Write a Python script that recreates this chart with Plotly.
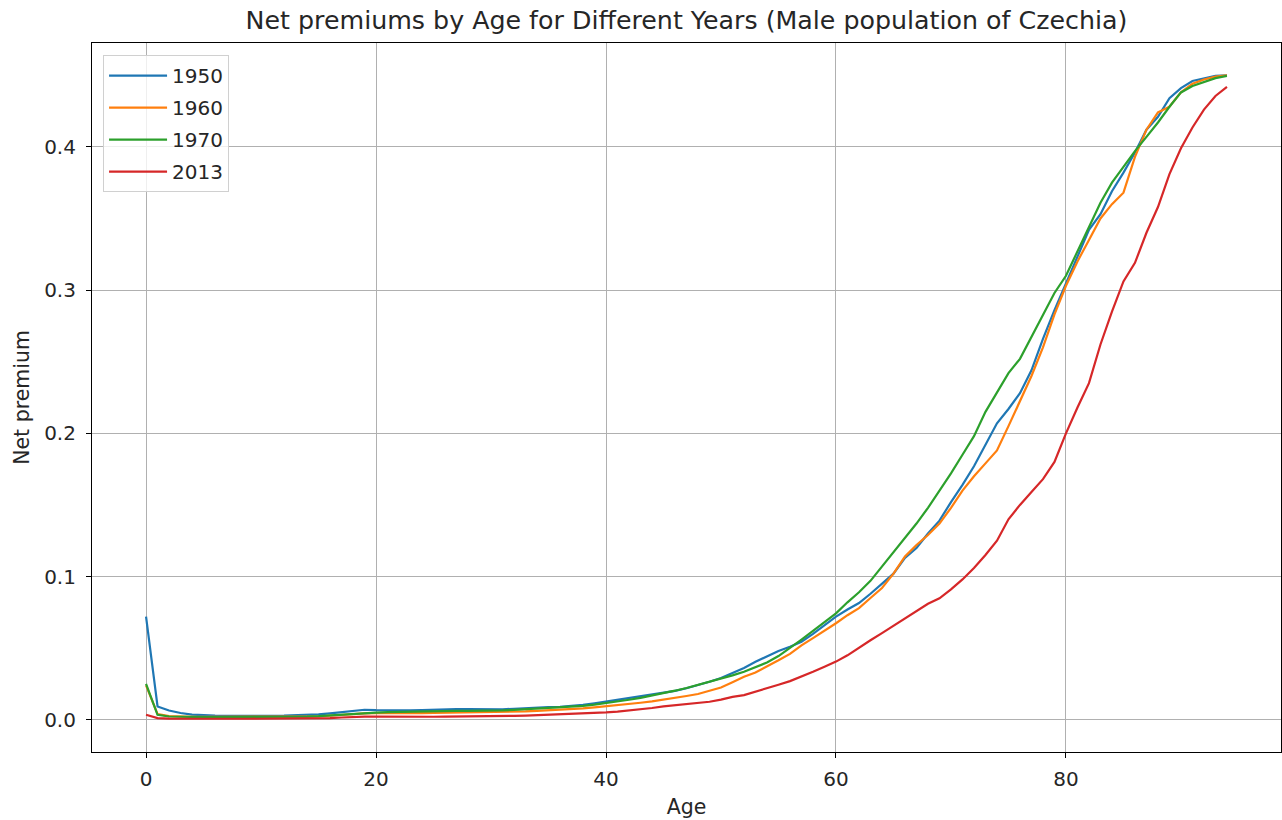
import plotly.graph_objects as go

# Net single premiums by age (ages 0..94), male population of Czechia
ages = list(range(0, 95))

premium_1950 = [
    0.0720, 0.0093, 0.0065, 0.0047, 0.0036, 0.0031, 0.0029, 0.0028, 0.0027, 0.0027,
    0.0027, 0.0028, 0.0029, 0.0031, 0.0034, 0.0038, 0.0045, 0.0054, 0.0063, 0.0070,
    0.0067, 0.0065, 0.0064, 0.0065, 0.0068, 0.0071, 0.0074, 0.0075, 0.0074, 0.0072,
    0.0071, 0.0073, 0.0077, 0.0082, 0.0086, 0.0088, 0.0090, 0.0095, 0.0104, 0.0115,
    0.0127, 0.0139, 0.0151, 0.0163, 0.0174, 0.0186, 0.0202, 0.0220, 0.0240, 0.0265,
    0.0292, 0.0325, 0.0362, 0.0405, 0.0445, 0.0480, 0.0510, 0.0545, 0.0600, 0.0660,
    0.0720, 0.0770, 0.0815, 0.0880, 0.0950, 0.1020, 0.1130, 0.1200, 0.1300, 0.1390,
    0.1520, 0.1640, 0.1770, 0.1920, 0.2070, 0.2170, 0.2280, 0.2440, 0.2660, 0.2860,
    0.3050, 0.3230, 0.3420, 0.3530, 0.3690, 0.3820, 0.3960, 0.4120, 0.4210, 0.4340,
    0.4410, 0.4460, 0.4480, 0.4495, 0.4500,
]

premium_1960 = [
    0.0240, 0.0040, 0.0025, 0.0021, 0.0020, 0.0020, 0.0020, 0.0020, 0.0020, 0.0020,
    0.0020, 0.0020, 0.0020, 0.0020, 0.0021, 0.0023, 0.0028, 0.0034, 0.0040, 0.0045,
    0.0046, 0.0045, 0.0045, 0.0046, 0.0047, 0.0048, 0.0049, 0.0050, 0.0050, 0.0050,
    0.0050, 0.0052, 0.0055, 0.0058, 0.0062, 0.0065, 0.0068, 0.0073, 0.0079, 0.0086,
    0.0093, 0.0101, 0.0110, 0.0119, 0.0129, 0.0140, 0.0152, 0.0166, 0.0180, 0.0200,
    0.0225, 0.0262, 0.0300, 0.0330, 0.0370, 0.0415, 0.0460, 0.0520, 0.0570, 0.0620,
    0.0674, 0.0730, 0.0779, 0.0850, 0.0920, 0.1020, 0.1140, 0.1220, 0.1290, 0.1370,
    0.1480, 0.1600, 0.1700, 0.1790, 0.1880, 0.2050, 0.2220, 0.2400, 0.2600, 0.2830,
    0.3030, 0.3200, 0.3350, 0.3500, 0.3600, 0.3680, 0.3930, 0.4120, 0.4240, 0.4280,
    0.4380, 0.4440, 0.4470, 0.4490, 0.4500,
]

premium_1970 = [
    0.0251, 0.0035, 0.0023, 0.0020, 0.0019, 0.0019, 0.0019, 0.0019, 0.0019, 0.0019,
    0.0019, 0.0019, 0.0019, 0.0020, 0.0022, 0.0025, 0.0030, 0.0037, 0.0045, 0.0050,
    0.0050, 0.0054, 0.0056, 0.0057, 0.0058, 0.0059, 0.0061, 0.0062, 0.0062, 0.0062,
    0.0063, 0.0065, 0.0069, 0.0073, 0.0077, 0.0081, 0.0085, 0.0090, 0.0097, 0.0106,
    0.0116, 0.0128, 0.0140, 0.0153, 0.0168, 0.0186, 0.0203, 0.0222, 0.0243, 0.0263,
    0.0285, 0.0310, 0.0335, 0.0365, 0.0400, 0.0445, 0.0500, 0.0560, 0.0620, 0.0680,
    0.0743, 0.0820, 0.0890, 0.0970, 0.1070, 0.1170, 0.1270, 0.1370, 0.1480, 0.1600,
    0.1720, 0.1850, 0.1980, 0.2150, 0.2290, 0.2420, 0.2520, 0.2670, 0.2830, 0.2980,
    0.3100, 0.3270, 0.3440, 0.3610, 0.3750, 0.3860, 0.3970, 0.4070, 0.4170, 0.4280,
    0.4380, 0.4425, 0.4455, 0.4480, 0.4495,
]

premium_2013 = [
    0.0035, 0.0012, 0.0008, 0.0007, 0.0007, 0.0007, 0.0007, 0.0007, 0.0007, 0.0007,
    0.0007, 0.0007, 0.0007, 0.0007, 0.0008, 0.0009, 0.0012, 0.0016, 0.0020, 0.0022,
    0.0022, 0.0021, 0.0020, 0.0020, 0.0021, 0.0021, 0.0022, 0.0022, 0.0023, 0.0023,
    0.0024, 0.0025, 0.0027, 0.0029, 0.0032, 0.0035, 0.0036, 0.0039, 0.0042, 0.0046,
    0.0051, 0.0057, 0.0064, 0.0072, 0.0082, 0.0093, 0.0102, 0.0110, 0.0118, 0.0126,
    0.0141, 0.0160, 0.0172, 0.0195, 0.0220, 0.0245, 0.0270, 0.0300, 0.0335, 0.0370,
    0.0406, 0.0450, 0.0505, 0.0555, 0.0605, 0.0655, 0.0709, 0.0760, 0.0810, 0.0848,
    0.0910, 0.0980, 0.1060, 0.1150, 0.1250, 0.1400, 0.1500, 0.1590, 0.1680, 0.1800,
    0.2000, 0.2180, 0.2350, 0.2620, 0.2850, 0.3060, 0.3190, 0.3400, 0.3580, 0.3810,
    0.3990, 0.4135, 0.4260, 0.4355, 0.4418,
]

years = ["1950", "1960", "1970", "2013"]
series = [premium_1950, premium_1960, premium_1970, premium_2013]
colors = ["#1f77b4", "#ff7f0e", "#2ca02c", "#d62728"]

FONT = "DejaVu Sans"
TEXT = "#262626"

fig = go.Figure()
for year, values, color in zip(years, series, colors):
    fig.add_trace(go.Scatter(
        x=ages, y=values, mode="lines", name=year,
        legendgroup=year,
        line=dict(color=color, width=2.2),
    ))

axis_common = dict(
    showline=True, linecolor="#000000", linewidth=1.1, mirror=True,
    ticks="outside", ticklen=5, tickwidth=1.1, tickcolor="#000000",
    showgrid=True, gridcolor="#b0b0b0", gridwidth=1.1,
    zeroline=False,
    tickfont=dict(family=FONT, size=20, color=TEXT),
)

fig.update_layout(
    width=1282, height=820,
    margin=dict(l=92, r=1, t=43, b=68),
    paper_bgcolor="white", plot_bgcolor="white",
    font=dict(family=FONT, color=TEXT),
    title=dict(
        text="Net premiums by Age for Different Years (Male population of Czechia)",
        font=dict(family=FONT, size=25.3, color=TEXT),
        x=0.5, xref="paper", xanchor="center",
        y=1 - 20 / 820, yref="container", yanchor="middle",
    ),
    xaxis=dict(
        range=[-4.7, 98.7], tickmode="linear", tick0=0, dtick=20,
        ticklabelstandoff=4,
        title=dict(text="Age", font=dict(family=FONT, size=20.5, color=TEXT), standoff=9),
        **axis_common,
    ),
    yaxis=dict(
        range=[-0.0225, 0.4725], tickmode="linear", tick0=0, dtick=0.1,
        tickformat=".1f", ticklabelstandoff=6,
        title=dict(text="Net premium", font=dict(family=FONT, size=20.5, color=TEXT), standoff=8),
        **axis_common,
    ),
    legend=dict(
        x=0.0093, y=0.983, xanchor="left", yanchor="top",
        bgcolor="rgba(255,255,255,0.8)", bordercolor="#d0d0d0", borderwidth=1,
        font=dict(family=FONT, size=20, color=TEXT),
        traceorder="grouped", tracegroupgap=3,
        itemwidth=58,
    ),
)

fig.write_html("out.html")
